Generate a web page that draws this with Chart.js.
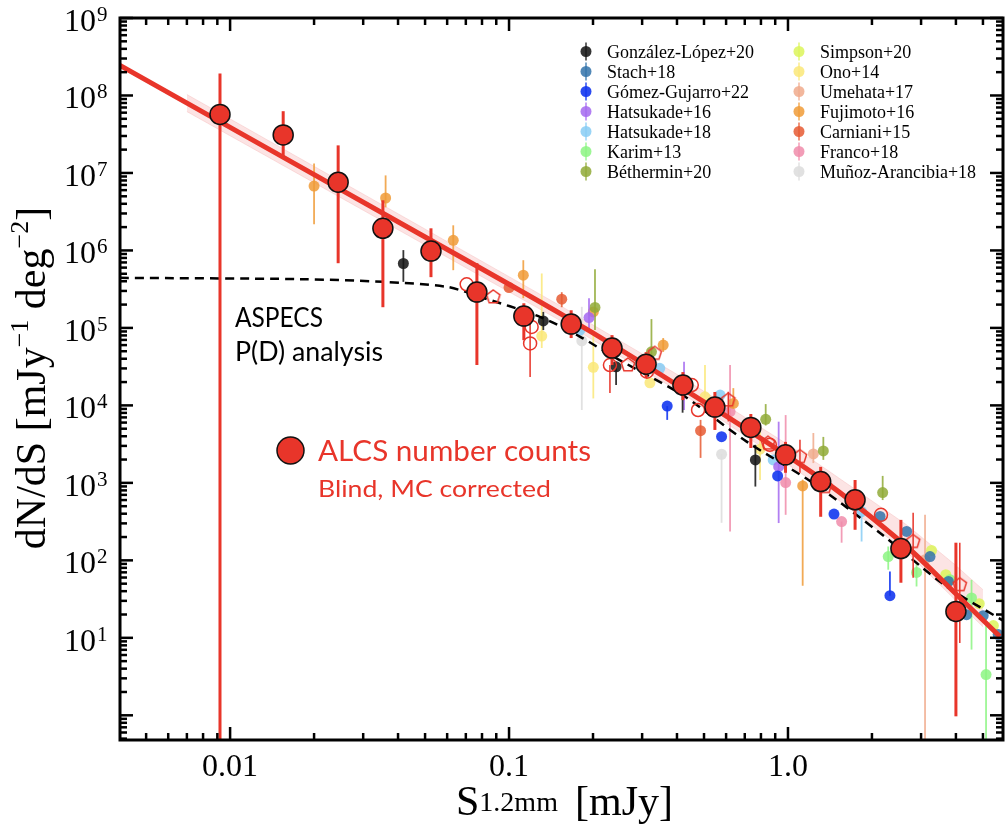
<!DOCTYPE html>
<html>
<head>
<meta charset="utf-8">
<script src="https://cdn.jsdelivr.net/npm/chart.js@4.4.1/dist/chart.umd.min.js"></script>
<style>
  html, body { margin: 0; padding: 0; background: #fff; }
  #wrap { width: 1006px; height: 830px; position: relative; }
</style>
</head>
<body>
<div id="wrap"><canvas id="counts"></canvas></div>
<script>
// ALCS number counts: flux [mJy], dN/dS, and error bar ends
const alcsFlux = [0.0092, 0.0155, 0.0244, 0.0353, 0.0525, 0.0767, 0.113, 0.167, 0.234, 0.31, 0.42, 0.547, 0.736, 0.98, 1.31, 1.74, 2.54, 4.0]
const alcsCounts = [5.7e7, 3.1e7, 7.6e6, 1.93e6, 9.8e5, 2.9e5, 1.42e5, 1.12e5, 5.5e4, 3.4e4, 1.83e4, 9.5e3, 5.2e3, 2.3e3, 1.04e3, 604, 142, 21.9]
const alcsLow = [0.3, 1.64e7, 6.84e5, 1.85e5, 4.52e5, 3.32e4, 6.95e4, 7.4e4, 3.32e4, 2.26e4, 1.17e4, 4.82e3, 2.82e3, 1.35e3, 365, 248, 51.4, 0.97]
const alcsHigh = [1.92e8, 6.27e7, 2.27e7, 4.44e6, 1.93e6, 6.84e5, 2.08e5, 1.69e5, 8.07e4, 4.87e4, 2.69e4, 1.49e4, 7.74e3, 3.38e3, 1.61e3, 1.09e3, 333, 169]

// other ALCS estimates (open red circles / pentagons): [flux, counts, low, high]
const alcsCircles = [[0.0705, 3.66e5], [0.1205, 1.03e5], [0.119, 6.31e4, 2.32e4, 1.69e5], [0.230, 3.32e4, 1.45e4, 3.32e4], [0.312, 2.72e4], [0.452, 1.83e4], [0.476, 8.72e3], [0.861, 3.1e3], [2.155, 387]]
const alcsPentagons = [[0.0878, 2.51e5], [0.267, 3.32e4], [0.333, 4.69e4], [0.611, 1.17e4, 6.2e3, 1.5e4], [0.848, 3.25e3], [1.104, 2.18e3, 1.35e3, 3.6e3], [1.358, 896], [2.81, 175, 59.7, 410], [4.13, 48.5, 8.6, 169]]

// best fit and its band
const fitFlux = [0.00403, 0.0453, 0.156, 0.410, 1.30, 2.66, 3.97, 5.75]
const fitCounts = [2.44e8, 1.82e6, 1.46e5, 1.74e4, 1.16e3, 151, 37.9, 10.4]
const bandFlux = [0.0070, 0.0453, 0.156, 0.410, 1.30, 2.66, 3.97, 5.0]
const bandHigh = [1.03e8, 2.31e6, 1.85e5, 2.39e4, 1.71e3, 288, 87.7, 41.8]
const bandLow = [6.2e7, 1.44e6, 1.19e5, 1.49e4, 914, 129, 31, 13.9]

// ASPECS P(D) analysis curve
const aspecsFlux = [0.00403, 0.0178, 0.0354, 0.0598, 0.0787, 0.129, 0.180, 0.237, 0.410, 0.484, 0.711, 1.232, 2.138, 3.70, 5.90]
const aspecsCounts = [4.43e5, 4.26e5, 3.93e5, 3.39e5, 2.52e5, 1.39e5, 7.68e4, 4.25e4, 1.43e4, 9.4e3, 3.41e3, 991, 225, 46.1, 16.7]

// literature counts: [flux, counts, low, high]
const gonzalezLopez20 = [[0.0418, 6.78e5, 3.93e5, 1.01e6], [0.1327, 1.23e5, 9.37e4, 1.61e5], [0.242, 3.15e4, 1.83e4, 3.66e4], [0.419, 1.58e4, 8.05e3, 2.2e4], [0.764, 1.98e3, 896, 3.1e3]]
const stach18 = [[2.138, 368], [2.663, 236], [3.23, 112], [3.76, 53.5], [4.37, 19.9], [5.01, 19.3], [5.67, 11.0]]
const gomezGuijarro22 = [[0.369, 9.8e3, 6.5e3, 9.8e3], [0.578, 3.95e3], [0.918, 1.23e3], [1.462, 395], [2.32, 35, 35, 72]]
const hatsukade16 = [[0.1935, 1.36e5, 9.37e4, 2.42e5], [0.424, 1.8e4, 8.72e3, 3.66e4], [0.926, 1.62e3, 303, 6.16e3]]
const hatsukade18 = [[0.1796, 9.37e4], [0.347, 3.01e4], [0.571, 1.36e4], [0.885, 1.98e3], [1.836, 427, 175, 427]]
const karim13 = [[2.288, 112, 75.7, 151], [2.89, 69.8, 46, 92], [3.81, 56.2], [4.55, 32.7, 7.05, 56], [5.13, 3.36, 0.3, 15.7]]
const bethermin20 = [[0.2033, 1.84e5, 9.37e4, 5.73e5], [0.324, 4.92e4, 4.25e4, 1.3e5], [0.832, 6.62e3, 5.5e3, 1.04e4], [1.339, 2.58e3, 1.98e3, 3.92e3], [2.185, 750, 600, 1.23e3]]
const simpson20 = [[3.27, 134], [3.68, 65.2], [4.85, 27.6], [5.45, 14.4]]
const ono14 = [[0.131, 7.84e4, 5.5e4, 5.04e5], [0.2005, 3.10e4, 1.23e4, 9.37e4], [0.320, 1.96e4], [0.504, 1.29e4, 1.29e4, 3.32e4], [0.794, 2.72e3, 1.09e3, 4.82e3]]
const umehata17 = [[1.233, 2.36e3, 1.8e3, 4.4e3], [3.10, 102, 0.3, 387]]
const fujimoto16 = [[0.0200, 6.78e6, 2.18e6, 1.32e7], [0.0361, 4.75e6, 3.6e6, 9.3e6], [0.0631, 1.35e6, 5.56e5, 2.11e6], [0.1125, 4.79e5, 2.42e5, 7.48e5], [0.2005, 1.61e5], [0.357, 6.0e4, 4.9e4, 7.4e4], [0.637, 1.06e4, 9.25e3, 1.67e4], [1.129, 914, 47, 1100]]
const carniani15 = [[0.100, 3.32e5], [0.1545, 2.35e5, 1.85e5, 2.89e5], [0.486, 4.72e3, 2.1e3, 6.5e3]]
const franco18 = [[0.620, 8.3e3, 236, 3.32e4], [0.981, 1.01e3, 387, 7.5e3], [1.557, 317, 169, 317]]
const munozArancibia18 = [[0.1823, 6.82e4, 8.72e3, 1.87e5], [0.578, 2.34e3, 305, 2.36e3]]

const xTickLabels = ["0.01", "0.1", "1.0"]
const xTickValues = [0.01, 0.1, 1]

const RED = "#e8352a"
const SERIF = "'Liberation Serif', 'Times New Roman', serif"
const SANS = "Lato, 'Open Sans', sans-serif"

const literature = [
  ["González-López+20", "rgba(25,25,25,0.88)", gonzalezLopez20],
  ["Stach+18", "rgba(50,115,170,0.85)", stach18],
  ["Gómez-Gujarro+22", "rgba(20,55,240,0.9)", gomezGuijarro22],
  ["Hatsukade+16", "rgba(165,105,240,0.85)", hatsukade16],
  ["Hatsukade+18", "rgba(135,205,245,0.85)", hatsukade18],
  ["Karim+13", "rgba(140,245,130,0.85)", karim13],
  ["Béthermin+20", "rgba(145,170,55,0.85)", bethermin20],
  ["Simpson+20", "rgba(220,245,90,0.85)", simpson20],
  ["Ono+14", "rgba(250,232,120,0.85)", ono14],
  ["Umehata+17", "rgba(240,170,140,0.85)", umehata17],
  ["Fujimoto+16", "rgba(240,155,55,0.85)", fujimoto16],
  ["Carniani+15", "rgba(230,90,50,0.85)", carniani15],
  ["Franco+18", "rgba(240,140,170,0.85)", franco18],
  ["Muñoz-Arancibia+18", "rgba(222,222,222,0.9)", munozArancibia18]
]

function fromRows(rows) {
  return {
    data: rows.map((r) => ({ x: r[0], y: r[1] })),
    errLo: rows.map((r) => (r.length > 2 ? r[2] : null)),
    errHi: rows.map((r) => (r.length > 2 ? r[3] : null))
  }
}

function pentagon(r, color) {
  const c = document.createElement("canvas")
  const s = Math.ceil(r * 2 + 4)
  c.width = s
  c.height = s
  const g = c.getContext("2d")
  g.strokeStyle = color
  g.lineWidth = 1.5
  g.beginPath()
  for (let k = 0; k < 5; k++) {
    const t = -Math.PI / 2 + (k * 2 * Math.PI) / 5
    const px = s / 2 + r * Math.cos(t)
    const py = s / 2 + r * Math.sin(t)
    k ? g.lineTo(px, py) : g.moveTo(px, py)
  }
  g.closePath()
  g.stroke()
  return c
}

const datasets = []

datasets.push({
  type: "line",
  data: bandFlux.map((s, i) => ({ x: s, y: bandHigh[i] })),
  borderColor: "rgba(240,150,150,0.25)",
  borderWidth: 1,
  pointRadius: 0,
  fill: "+1",
  backgroundColor: "rgba(245,165,165,0.3)",
  order: 30
})
datasets.push({
  type: "line",
  data: bandFlux.map((s, i) => ({ x: s, y: bandLow[i] })),
  borderColor: "rgba(240,150,150,0.25)",
  borderWidth: 1,
  pointRadius: 0,
  fill: false,
  order: 31
})

literature.forEach(([label, color, rows], i) => {
  datasets.push({
    label,
    ...fromRows(rows),
    pointRadius: 5.5,
    pointBorderWidth: 0,
    backgroundColor: color,
    borderColor: color,
    errColor: color,
    errWidth: 1.8,
    order: 10 + i
  })
})

datasets.push({
  type: "line",
  data: aspecsFlux.map((s, i) => ({ x: s, y: aspecsCounts[i] })),
  borderColor: "#000",
  borderWidth: 2.5,
  borderDash: [9, 6],
  pointRadius: 0,
  tension: 0.3,
  fill: false,
  order: 4
})

datasets.push({
  type: "line",
  data: fitFlux.map((s, i) => ({ x: s, y: fitCounts[i] })),
  borderColor: RED,
  borderWidth: 5,
  pointRadius: 0,
  tension: 0.3,
  fill: false,
  order: 3
})

datasets.push({
  ...fromRows(alcsCircles),
  pointRadius: 6.5,
  pointBorderWidth: 1.5,
  backgroundColor: "rgba(0,0,0,0)",
  borderColor: RED,
  errColor: RED,
  errWidth: 1.5,
  order: 2
})

datasets.push({
  ...fromRows(alcsPentagons),
  pointStyle: pentagon(7, RED),
  pointRadius: 7,
  errColor: RED,
  errWidth: 1.5,
  order: 2
})

datasets.push({
  data: alcsFlux.map((s, i) => ({ x: s, y: alcsCounts[i] })),
  errLo: alcsLow,
  errHi: alcsHigh,
  pointRadius: 10,
  pointBorderWidth: 1.5,
  backgroundColor: RED,
  borderColor: "#111",
  errColor: RED,
  errWidth: 3,
  order: 0
})

const errorBars = {
  id: "errorBars",
  beforeDatasetDraw(chart, args) {
    const ds = chart.data.datasets[args.index]
    if (!ds.errLo) return
    const { ctx, chartArea: a, scales: { x, y } } = chart
    ctx.save()
    ctx.beginPath()
    ctx.rect(a.left, a.top, a.width, a.height)
    ctx.clip()
    ctx.strokeStyle = ds.errColor
    ctx.lineWidth = ds.errWidth
    ds.data.forEach((p, i) => {
      const lo = ds.errLo[i]
      const hi = ds.errHi[i]
      if (lo == null || hi == null) return
      const px = x.getPixelForValue(p.x)
      ctx.beginPath()
      ctx.moveTo(px, y.getPixelForValue(lo))
      ctx.lineTo(px, y.getPixelForValue(hi))
      ctx.stroke()
    })
    ctx.restore()
  }
}

// sans text at a given size, squeezed sideways to the given width
function drawSqueezed(ctx, text, x0, y0, size, width) {
  ctx.font = `${size}px ${SANS}`
  const sx = width / ctx.measureText(text).width
  ctx.save()
  ctx.translate(x0, y0)
  ctx.scale(sx, 1)
  ctx.fillText(text, 0, 0)
  ctx.restore()
}

// draws a run of [text, size, dy] pieces starting at (x0, y0)
function drawRuns(ctx, runs, x0, y0) {
  let x = x0
  runs.forEach(([text, size, dy]) => {
    ctx.font = `${size}px ${SERIF}`
    ctx.fillText(text, x, y0 + dy)
    x += ctx.measureText(text).width
  })
}

function runsWidth(ctx, runs) {
  return runs.reduce((w, [text, size]) => {
    ctx.font = `${size}px ${SERIF}`
    return w + ctx.measureText(text).width
  }, 0)
}

const frame = {
  id: "frame",
  afterDraw(chart) {
    const { ctx, chartArea: a, scales: { x, y } } = chart
    const seg = (x1, y1, x2, y2) => {
      ctx.beginPath()
      ctx.moveTo(x1, y1)
      ctx.lineTo(x2, y2)
      ctx.stroke()
    }
    ctx.save()
    ctx.strokeStyle = "#000"
    ctx.lineWidth = 2.5

    for (let e = -1; e <= 9; e++) {
      for (let m = 1; m <= 9; m++) {
        const v = m * Math.pow(10, e)
        if (v < y.min || v > y.max) continue
        const py = y.getPixelForValue(v)
        const len = m === 1 ? 13 : 7
        seg(a.left, py, a.left + len, py)
        seg(a.right, py, a.right - len, py)
      }
    }
    for (let e = -3; e <= 1; e++) {
      for (let m = 1; m <= 9; m++) {
        const v = m * Math.pow(10, e)
        if (v < x.min || v > x.max) continue
        const px = x.getPixelForValue(v)
        const len = m === 1 ? 13 : 7
        seg(px, a.bottom, px, a.bottom - len)
        seg(px, a.top, px, a.top + len)
      }
    }
    ctx.lineWidth = 3
    ctx.strokeRect(a.left, a.top, a.width, a.height)

    // y tick labels 10^n
    ctx.fillStyle = "#000"
    for (let e = 1; e <= 9; e++) {
      const py = y.getPixelForValue(Math.pow(10, e))
      ctx.textAlign = "right"
      ctx.font = `32px ${SERIF}`
      ctx.fillText("10", 96, py + 13)
      ctx.textAlign = "left"
      ctx.font = `21px ${SERIF}`
      ctx.fillText(String(e), 97, py + 3)
    }

    // x tick labels
    ctx.textAlign = "center"
    ctx.font = `32px ${SERIF}`
    xTickValues.forEach((v, i) => {
      ctx.fillText(xTickLabels[i], x.getPixelForValue(v), 776)
    })

    // axis titles
    ctx.textAlign = "left"
    drawRuns(ctx, [["S", 42, 0], ["1.2mm", 28, -4]], 456, 815)
    ctx.font = `42px ${SERIF}`
    ctx.fillText("[mJy]", 575, 815)

    const yRuns = [["dN/dS [mJy", 42, 0], ["−1", 26, -17], [" deg", 42, 0], ["−2", 26, -17], ["]", 42, 0]]
    ctx.save()
    ctx.translate(45, 378)
    ctx.rotate(-Math.PI / 2)
    drawRuns(ctx, yRuns, -runsWidth(ctx, yRuns) / 2, 0)
    ctx.restore()

    // annotations
    ctx.fillStyle = "#000"
    drawSqueezed(ctx, "ASPECS", 235, 327, 26, 88)
    drawSqueezed(ctx, "P(D) analysis", 235, 361, 26, 148)

    ctx.beginPath()
    ctx.arc(290.5, 450.5, 13.5, 0, Math.PI * 2)
    ctx.fillStyle = RED
    ctx.fill()
    ctx.lineWidth = 1.5
    ctx.strokeStyle = "#111"
    ctx.stroke()
    ctx.fillStyle = RED
    drawSqueezed(ctx, "ALCS number counts", 318, 461, 29, 273)
    drawSqueezed(ctx, "Blind, MC corrected", 318, 497, 23, 233)

    // literature legend in two columns
    ctx.font = `18px ${SERIF}`
    literature.forEach(([label, color], i) => {
      const col = i < 7 ? 0 : 1
      const row = col ? i - 7 : i
      const mx = col ? 799 : 586
      const my = 51.5 + row * 20
      ctx.strokeStyle = color
      ctx.lineWidth = 1.5
      seg(mx, my - 9, mx, my + 9)
      ctx.beginPath()
      ctx.arc(mx, my, 5.5, 0, Math.PI * 2)
      ctx.fillStyle = color
      ctx.fill()
      ctx.fillStyle = "#000"
      ctx.fillText(label, mx + 21, my + 6)
    })
    ctx.restore()
  }
}

new Chart(document.getElementById("counts"), {
  type: "scatter",
  data: { datasets },
  options: {
    animation: false,
    responsive: true,
    maintainAspectRatio: false,
    layout: { autoPadding: false, padding: { left: 120, top: 18, right: 3, bottom: 90 } },
    plugins: { legend: { display: false }, tooltip: { enabled: false } },
    scales: {
      x: { type: "logarithmic", min: 0.00403, max: 5.9, display: false },
      y: { type: "logarithmic", min: 0.48, max: 1e9, display: false }
    }
  },
  plugins: [errorBars, frame]
})
</script>
</body>
</html>
